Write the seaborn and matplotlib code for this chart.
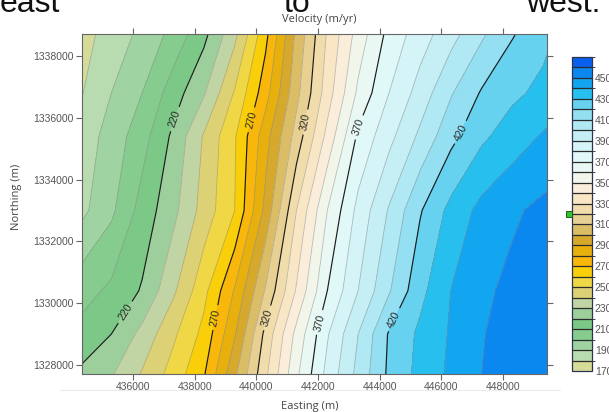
import matplotlib
matplotlib.use("Agg")
import numpy as np
import matplotlib.pyplot as plt
import seaborn as sns
from matplotlib.colors import ListedColormap, BoundaryNorm
from matplotlib.patches import Rectangle
from matplotlib.lines import Line2D
from matplotlib.ticker import FormatStrFormatter

# Survey grid (UTM metres)
easting = [434300, 435300, 436300, 437300, 438300, 439300, 440300, 441300, 442300,
           443300, 444300, 445300, 446300, 447300, 448300, 449300, 449500]
northing = [1327700, 1329000, 1330400, 1333000, 1335400, 1336800, 1338750]

# Ice velocity (m/yr) along each northing row, west to east
vel_1327700 = [222, 229, 241, 254, 269, 298, 328, 358, 383, 403, 422, 433, 442, 450, 454, 456.5, 457]
vel_1329000 = [213, 220, 233, 248, 263, 289, 323, 353, 379, 400, 421, 432, 441, 449.5, 453.5, 456.5, 457]
vel_1330400 = [206, 212, 221, 238, 257, 281, 311, 341, 370, 390, 409, 427, 440, 448, 452.5, 456.5, 457]
vel_1333000 = [187, 198, 214, 227, 244, 260, 293, 330, 360, 383, 401, 419, 433, 443, 448.5, 452.5, 453]
vel_1335400 = [184, 194, 206, 222, 241, 259, 286, 314, 343, 372, 387, 402, 417, 428, 435, 441, 442.5]
vel_1336800 = [179, 190, 200, 215, 229, 251, 276, 307, 335, 362, 380, 394, 409, 421, 428, 432.5, 433]
vel_1338750 = [175, 185, 192, 203, 217, 237, 267, 302, 331, 354, 373, 385, 396, 408, 419, 427, 429]

levels = list(range(170, 480, 10))
major_levels = [220, 270, 320, 370, 420]
cbar_ticks = list(range(170, 460, 20))

band_colors = [
    "#d6dc98", "#b9dbb0", "#9fd4a2", "#86cc8e", "#7cc886", "#9ccf9c",
    "#c1d5a4", "#dcd275", "#f0d746", "#f9cf0a", "#f8b70a", "#e8b00c",
    "#d6a92c", "#dbbd66", "#e8d092", "#f1dcab", "#f8e6c4", "#faeedb",
    "#f2f5e9", "#e9f8f3", "#e0f8f8", "#d4f4f7", "#c6eff5", "#b0e8f3",
    "#94dff1", "#66d2ef", "#26bfee", "#12a5f0", "#0b88f0", "#0a60ee",
]

sns.set_style("ticks")
plt.rcParams["font.family"] = ["Liberation Sans", "DejaVu Sans"]

X, Y = np.meshgrid(np.array(easting, float), np.array(northing, float))
Z = np.array([vel_1327700, vel_1329000, vel_1330400, vel_1333000,
              vel_1335400, vel_1336800, vel_1338750], float)

cmap = ListedColormap(sns.color_palette(band_colors))
norm = BoundaryNorm(levels, cmap.N)

fig = plt.figure(figsize=(6.09, 4.12), dpi=100)
fig.patch.set_facecolor("white")
ax = fig.add_axes([82 / 609, 1 - 374 / 412, 465 / 609, 340 / 412])

cf = ax.contourf(X, Y, Z, levels=levels, cmap=cmap, norm=norm)
ax.contour(X, Y, Z, levels=[l for l in levels if l not in major_levels],
           colors="#8c8c8c", linewidths=0.6, alpha=0.55)
cs = ax.contour(X, Y, Z, levels=major_levels, colors="#1c1c1c", linewidths=0.85)

label_points = [
    (437264, 1335990), (435741, 1329715),
    (439857, 1335930), (438755, 1329520),
    (441575, 1335865), (440375, 1329520),
    (443293, 1335700), (442000, 1329390),
    (446598, 1335540), (444489, 1329455),
]
ax.clabel(cs, fmt="%d", fontsize=7.5, colors="#2a2a2a", inline=True,
          inline_spacing=4, manual=label_points)

ax.set_xlim(434350, 449420)
ax.set_ylim(1327710, 1338710)
ax.set_xticks([436000, 438000, 440000, 442000, 444000, 446000, 448000])
ax.set_yticks([1328000, 1330000, 1332000, 1334000, 1336000, 1338000])
ax.xaxis.set_major_formatter(FormatStrFormatter("%d"))
ax.yaxis.set_major_formatter(FormatStrFormatter("%d"))
ax.tick_params(axis="both", which="both", direction="out", length=4.5, width=0.8,
               color="#666666", labelcolor="#555555", labelsize=7.5, pad=1.5,
               top=True, right=True)
for sp in ax.spines.values():
    sp.set_color("#666666")
    sp.set_linewidth(0.8)

lab_font = dict(family=["Open Sans", "DejaVu Sans"], size=8, color="#444444")
ax.set_xlabel("Easting (m)", **lab_font, va="center")
ax.xaxis.set_label_coords(0.49, -0.097)
ax.set_ylabel("Northing (m)", **lab_font, va="center")
ax.yaxis.set_label_coords(-0.14, 0.52)
ax.text(0.51, 1.044, "Velocity (m/yr)", transform=ax.transAxes,
        ha="center", va="center", **lab_font)

# colour key
cax = fig.add_axes([572 / 609, 1 - 371 / 412, 20 / 609, 314 / 412])
cb = fig.colorbar(cf, cax=cax, ticks=cbar_ticks, drawedges=True)
cb.dividers.set_color("#2b2b2b")
cb.dividers.set_linewidth(0.9)
cb.outline.set_edgecolor("#2b3550")
cb.outline.set_linewidth(0.9)
cax.tick_params(length=0, pad=2, labelsize=7.5, labelcolor="#555555")

fig.add_artist(Rectangle((566 / 609, 1 - 217 / 412), 6 / 609, 6 / 412,
                         transform=fig.transFigure, facecolor="#33c433",
                         edgecolor="#1d5a1d", linewidth=0.7))
fig.add_artist(Line2D([60 / 609, 560 / 609], [1 - 390 / 412] * 2,
                      transform=fig.transFigure, color="#ececec", linewidth=0.8))

# slide caption running above the chart
cap = dict(family=["Liberation Sans", "DejaVu Sans"], size=23, color="#111111", va="baseline")
fig.text(0 / 609, 1 - 12 / 412, "east", **cap)
fig.text(284 / 609, 1 - 12 / 412, "to", **cap)
fig.text(526 / 609, 1 - 12 / 412, "west.", **cap)

fig.savefig("out.png", dpi=100)
